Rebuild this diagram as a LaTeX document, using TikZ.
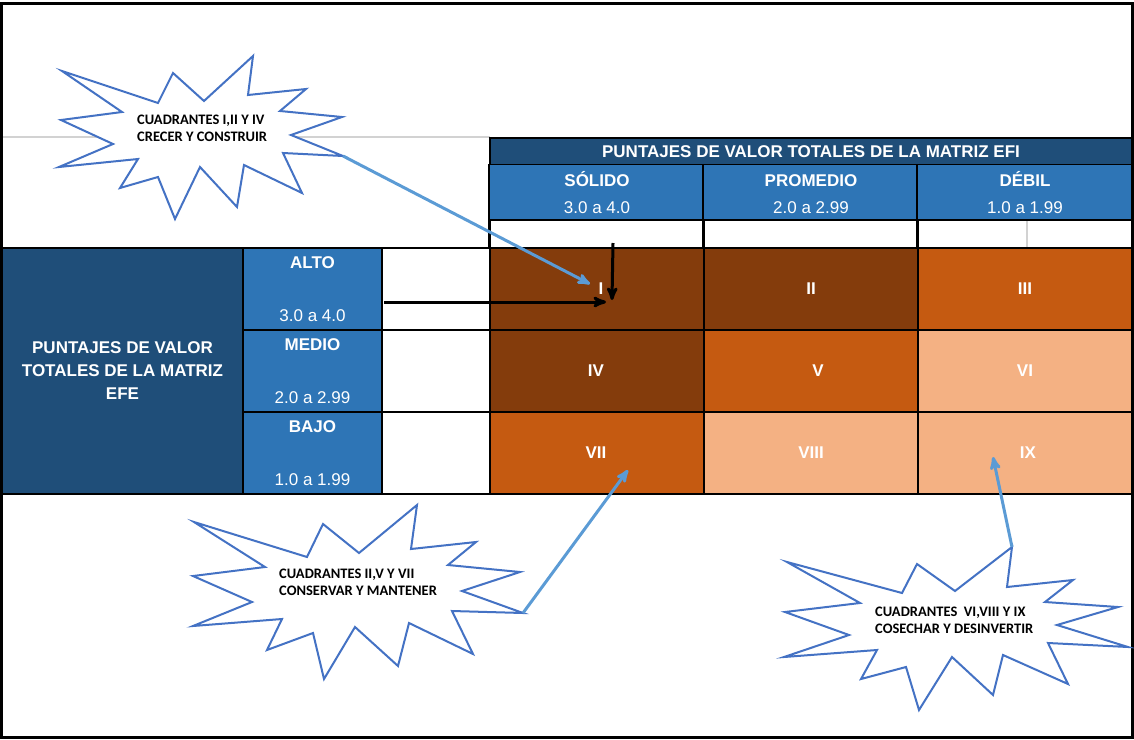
\documentclass[tikz,border=0pt]{standalone}
\usepackage{fontspec}
\setmainfont{Liberation Sans}
\newfontfamily\burstfont{Carlito}
\usepackage{tikz}
\usetikzlibrary{arrows}
\definecolor{azuloscuro}{HTML}{1F4E79}
\definecolor{azul}{HTML}{2E75B6}
\definecolor{cafe}{HTML}{843C0C}
\definecolor{naranja}{HTML}{C55A11}
\definecolor{salmon}{HTML}{F4B183}
\definecolor{borde}{HTML}{4472C4}
\definecolor{celeste}{HTML}{5B9BD5}
\tikzset{celda/.style={draw=black,line width=2.5pt,minimum width=214pt,minimum height=82pt,inner sep=0pt,
    text=white,font=\fontsize{17}{20}\selectfont\bfseries,align=center},
}

\begin{document}
\begin{tikzpicture}[x=1pt,y=-1pt,>=stealth',
		estallido/.style={draw=borde,fill=white,line width=2pt,line join=miter},
		texto/.style={inner sep=0pt,anchor=west,align=left,font=\burstfont\bfseries\fontsize{14.5}{17}\selectfont},
		flecha/.style={->,draw=celeste,line width=3pt},
		negra/.style={->,draw=black,line width=3pt}]
		
		\useasboundingbox (0,0) rectangle (1134,739);
		\draw[gray!35,line width=1.5pt] (0,137) -- (490,137);
		\draw[gray!35,line width=1.5pt] (1027,221) -- (1027,247);
		
		% encabezado EFI
		\node[celda,fill=azuloscuro,minimum width=642pt,minimum height=27pt] (efi) at (811,151.5) {PUNTAJES DE VALOR TOTALES DE LA MATRIZ EFI};
		\node[celda,draw=none,fill=azul,minimum height=55pt] (solido) at (597,192.5) {SÓLIDO\\[7pt]\mdseries 3.0 a 4.0};
		\node[celda,draw=none,fill=azul,minimum height=55pt] (promedio) at (811,192.5) {\vphantom{Ó}PROMEDIO\\[7pt]\mdseries 2.0 a 2.99};
		\node[celda,draw=none,fill=azul,minimum height=55pt] (debil) at (1025,192.5) {DÉBIL\\[7pt]\mdseries 1.0 a 1.99};
		\node[celda,minimum height=28pt] (b1) at (597,234) {};
		\node[celda,minimum height=28pt] (b2) at (811,234) {};
		\node[celda,minimum height=28pt] (b3) at (1025,234) {};
		\draw[black,line width=2.5pt] (solido.north west) -- (b1.south west)
		(promedio.north west) -- (b2.south west) (debil.north west) -- (b3.south west);
		
		% encabezado EFE
		\node[celda,fill=azuloscuro,minimum width=241pt,minimum height=246pt,font=\fontsize{17}{23}\selectfont\bfseries] (efe) at (122.5,371) {PUNTAJES DE VALOR\\TOTALES DE LA MATRIZ\\EFE};
		\node[celda,fill=azul,minimum width=139pt] (alto) at (312.5,289) {ALTO\\[33pt]\mdseries 3.0 a 4.0};
		\node[celda,fill=azul,minimum width=139pt] (medio) at (312.5,371) {MEDIO\\[33pt]\mdseries 2.0 a 2.99};
		\node[celda,fill=azul,minimum width=139pt] (bajo) at (312.5,453) {BAJO\\[33pt]\mdseries 1.0 a 1.99};
		\node[celda,fill=white,minimum width=108pt] (v1) at (436,289) {};
		\node[celda,fill=white,minimum width=108pt] (v2) at (436,371) {};
		\node[celda,fill=white,minimum width=108pt] (v3) at (436,453) {};
		
		% cuadrantes
		\node[celda,fill=cafe] (I) at (597,289) {\hspace*{8pt}I};
		\node[celda,fill=cafe] (II) at (811,289) {II};
		\node[celda,fill=naranja] (III) at (1025,289) {III};
		\node[celda,fill=cafe] (IV) at (597,371) {IV\hspace*{2pt}};
		\node[celda,fill=naranja] (V) at (811,371) {\hspace*{14pt}V};
		\node[celda,fill=salmon] (VI) at (1025,371) {VI};
		\node[celda,fill=naranja] (VII) at (597,453) {VII\hspace*{2pt}};
		\node[celda,fill=salmon] (VIII) at (811,453) {VIII};
		\node[celda,fill=salmon] (IX) at (1025,453) {\hspace*{6pt}IX};
		
		\draw[black,line width=3pt] (1.5,3) rectangle (1132.5,737.5);
		
		% estallidos
		\draw[estallido] (62,71) -- (158,103) -- (173,73) -- (204,101) -- (253,56) -- (248,95) -- (306,89) -- (280,111)
		-- (342,117) -- (291,135) -- (343,156) -- (283,153) -- (302,193) -- (244,165) -- (237,207) -- (200,167)
		-- (175,219) -- (158,177) -- (120,188) -- (138,159) -- (59,167) -- (113,144) -- (61,120) -- (122,112) -- cycle;
		\draw[estallido] (194,522) -- (307,557) -- (323,524) -- (359,553) -- (417,505) -- (411,549) -- (476,542) -- (448,565)
		-- (520,572) -- (462,591) -- (523,613) -- (452,611) -- (473,654) -- (409,623) -- (398,666) -- (355,627)
		-- (324,679) -- (313,633) -- (267,650) -- (282,619) -- (193,626) -- (252,602) -- (193,576) -- (265,567) -- cycle;
		\draw[estallido] (787,562) -- (902,593) -- (917,564) -- (955,591) -- (1012,547) -- (1007,587) -- (1073,580) -- (1045,602)
		-- (1118,607) -- (1057,625) -- (1128,647) -- (1048,643) -- (1068,684) -- (1003,655) -- (993,695) -- (952,657)
		-- (919,710) -- (906,667) -- (861,679) -- (877,650) -- (784,657) -- (849,635) -- (785,612) -- (860,603) -- cycle;
		
		\node[texto] (crecer) at (137,128.5) {CUADRANTES I,II Y IV\\CRECER Y CONSTRUIR};
		\node[texto] (conservar) at (279,582) {CUADRANTES II,V Y VII\\CONSERVAR Y MANTENER};
		\node[texto] (cosechar) at (875,620) {CUADRANTES\ \ VI,VIII Y IX\\COSECHAR Y DESINVERTIR};
		
		\coordinate (p1) at (343,156);
		\coordinate (p2) at (523,613);
		\coordinate (p3) at (1012,547);
		\coordinate (q1) at (590,284);
		\coordinate (q2) at (628,470);
		\coordinate (q3) at (993,457);
		\coordinate (arriba) at (613,243);
		\coordinate (abajo) at (612,300);
		\coordinate (izq) at (384,302);
		\coordinate (der) at (606,302);
		
		\draw[flecha] (p1) -- (q1);
		\draw[flecha] (p2) -- (q2);
		\draw[flecha] (p3) -- (q3);
		\draw[negra] (arriba) -- (abajo);
		\draw[negra] (izq) -- (der);
\end{tikzpicture}
\end{document}
